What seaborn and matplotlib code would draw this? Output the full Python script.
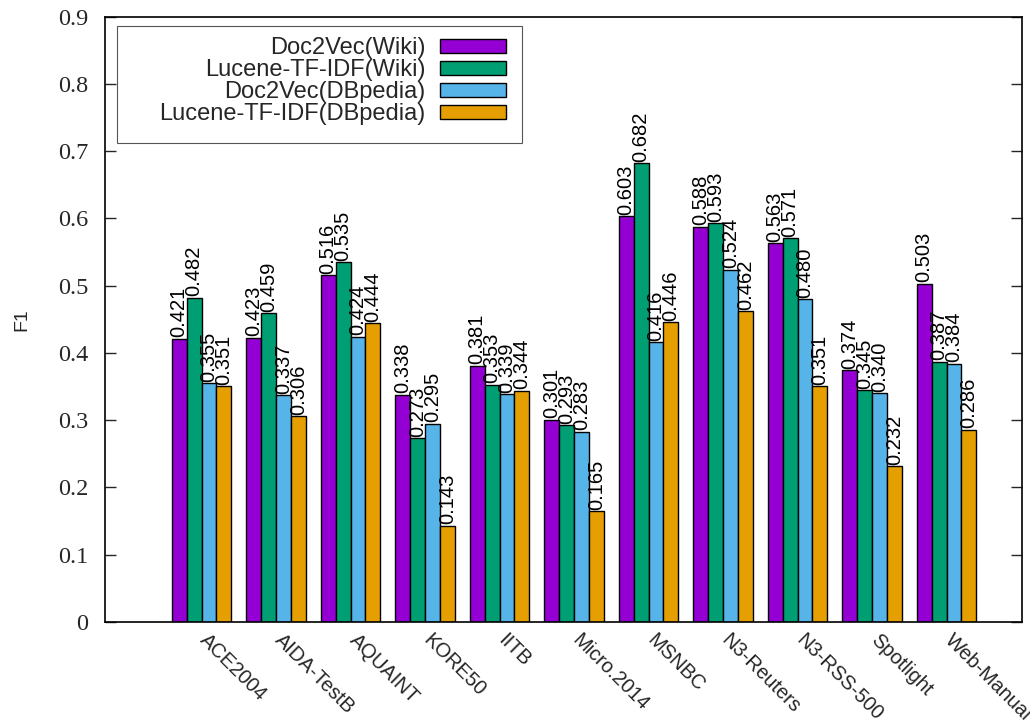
import matplotlib
matplotlib.use("Agg")
import matplotlib.pyplot as plt
import matplotlib.transforms as mtransforms
from matplotlib.patches import Patch, Rectangle
import numpy as np
import pandas as pd
import seaborn as sns

# Datasets and F1 scores per method
datasets = ["ACE2004", "AIDA-TestB", "AQUAINT", "KORE50", "IITB", "Micro.2014",
            "MSNBC", "N3-Reuters", "N3-RSS-500", "Spotlight", "Web-Manual"]
methods = ["Doc2Vec(Wiki)", "Lucene-TF-IDF(Wiki)", "Doc2Vec(DBpedia)", "Lucene-TF-IDF(DBpedia)"]
doc2vec_wiki = [0.421, 0.423, 0.516, 0.338, 0.381, 0.301, 0.603, 0.588, 0.563, 0.374, 0.503]
lucene_wiki = [0.482, 0.459, 0.535, 0.273, 0.353, 0.293, 0.682, 0.593, 0.571, 0.345, 0.387]
doc2vec_dbpedia = [0.355, 0.337, 0.424, 0.295, 0.339, 0.283, 0.416, 0.524, 0.480, 0.340, 0.384]
lucene_dbpedia = [0.351, 0.306, 0.444, 0.143, 0.344, 0.165, 0.446, 0.462, 0.351, 0.232, 0.286]
yticks = [0.0, 0.1, 0.2, 0.3, 0.4, 0.5, 0.6, 0.7, 0.8, 0.9]
ytick_labels = ["0", "0.1", "0.2", "0.3", "0.4", "0.5", "0.6", "0.7", "0.8", "0.9"]

colors = ["#9400D3", "#009E73", "#56B4E9", "#E69F00"]

series = [doc2vec_wiki, lucene_wiki, doc2vec_dbpedia, lucene_dbpedia]
df = pd.DataFrame({
    "dataset": np.repeat([datasets], len(methods), axis=0).ravel(),
    "method": np.repeat(methods, len(datasets)),
    "F1": np.concatenate(series),
})

sns.set_style("ticks")
plt.rcParams["font.family"] = ["Liberation Sans", "DejaVu Sans"]

fig = plt.figure(figsize=(10.30, 7.22), dpi=100)
ax = fig.add_axes([0.1017, 0.1385, 0.8903, 0.8384])

sns.barplot(data=df, x="dataset", y="F1", hue="method", order=datasets,
            hue_order=methods, palette=colors, width=0.8, edgecolor="black",
            linewidth=1.0, saturation=1, legend=False, ax=ax)

for cont in ax.containers:
    ax.bar_label(cont, fmt="%.3f", rotation=90, padding=1, fontsize=14.5,
                 color="black", zorder=5)

ax.set_xlim(-1.3, 11.01)
ax.set_ylim(0, 0.9)
ax.set_yticks(yticks)
ax.set_yticklabels(ytick_labels, family=["Liberation Serif", "DejaVu Serif"], fontsize=17.5)
ax.tick_params(axis="y", direction="in", length=8, width=1, pad=12, right=True, left=True)
ax.tick_params(axis="x", length=0, pad=6)
shift = mtransforms.ScaledTranslation(6 / 72.0, 0, fig.dpi_scale_trans)
for lbl in ax.get_xticklabels():
    lbl.set_rotation(-45)
    lbl.set_ha("left")
    lbl.set_va("top")
    lbl.set_rotation_mode("anchor")
    lbl.set_fontsize(14.5)
    lbl.set_transform(lbl.get_transform() + shift)

ax.set_xlabel("")
ax.set_ylabel("F1", fontsize=14, labelpad=20)
for sp in ax.spines.values():
    sp.set_visible(True)
    sp.set_linewidth(1.2)
    sp.set_color("black")

# Key box in the upper left
ax.add_patch(Rectangle((12 / 913.0, 479 / 605.0), 403 / 913.0, 117 / 605.0,
                       transform=ax.transAxes, fill=False, edgecolor="#555555",
                       linewidth=0.8, zorder=6))
handles = [Patch(facecolor=c, edgecolor="black", linewidth=1.0) for c in colors]
ax.legend(handles, methods, loc="upper right", bbox_to_anchor=(506 / 1030.0, 1 - 37 / 722.0),
          bbox_transform=fig.transFigure, frameon=False, markerfirst=False,
          fontsize=17, handlelength=2.8, handleheight=0.55, handletextpad=0.6,
          labelspacing=0.0, borderpad=0, borderaxespad=0)

fig.savefig("out.png", dpi=100)
